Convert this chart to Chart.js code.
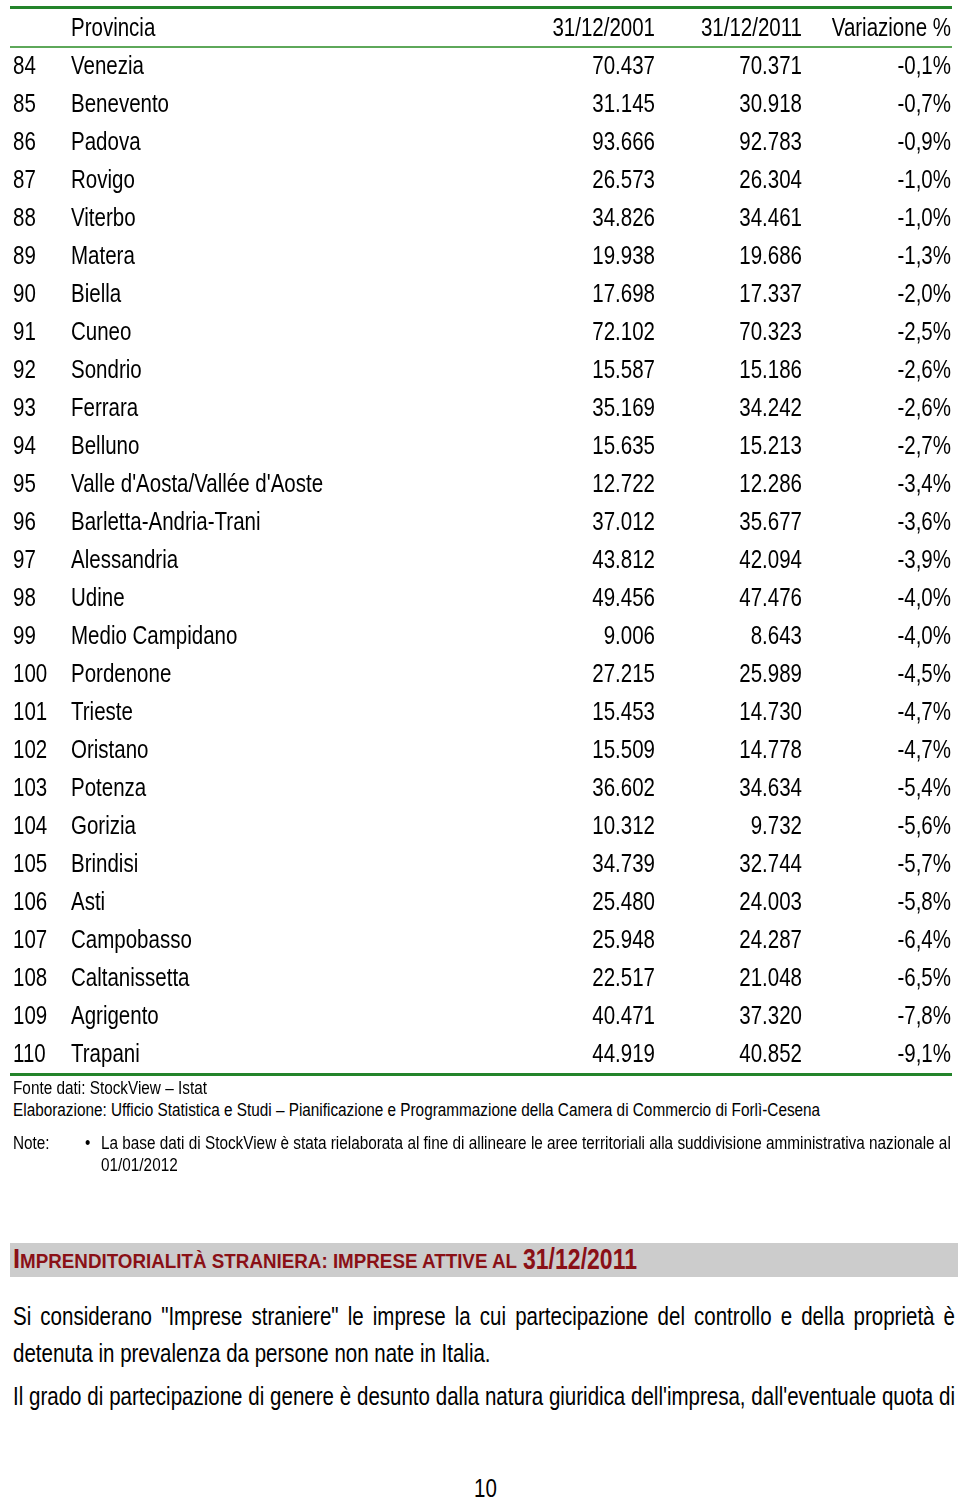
<!DOCTYPE html>
<html><head><meta charset="utf-8">
<script src="https://cdn.jsdelivr.net/npm/chart.js@4/dist/chart.umd.min.js"></script>
<style>
html,body{margin:0;padding:0;background:#fff;}
body{width:960px;height:1499px;position:relative;overflow:hidden;font-family:"Liberation Sans","Arial",sans-serif;color:#000;}
#wrap{position:absolute;left:0;top:0;width:960px;height:1082px;}
.abs{position:absolute;white-space:nowrap;display:inline-block;transform:scaleX(0.82);transform-origin:0 0;}
.small{font-size:18.7px;}
.band{position:absolute;left:10px;top:1243px;width:948px;height:34px;background:#cccccc;}
.ht{position:absolute;white-space:nowrap;display:inline-block;transform-origin:0 0;color:#8a1016;font-weight:bold;line-height:34px;top:1242px;}
.para{font-size:25px;}
</style></head>
<body>
<div id="wrap"><canvas id="c" width="960" height="1082"></canvas></div>

<div class="abs small" style="left:13px;top:1077px;">Fonte dati: StockView – Istat</div>
<div class="abs small" style="left:13px;top:1099px;">Elaborazione: Ufficio Statistica e Studi – Pianificazione e Programmazione della Camera di Commercio di Forlì-Cesena</div>
<div class="abs small" style="left:13px;top:1132px;">Note:</div>
<div class="abs small" style="left:85px;top:1132px;">•</div>
<div class="abs small" style="left:101px;top:1132px;">La base dati di StockView è stata rielaborata al fine di allineare le aree territoriali alla suddivisione amministrativa nazionale al</div>
<div class="abs small" style="left:101px;top:1154px;">01/01/2012</div>

<div class="band"></div>
<div class="ht" data-fit="504" style="left:13px;font-size:27px;">I<span style="font-size:20px;">MPRENDITORIALITÀ STRANIERA: IMPRESE ATTIVE AL</span></div>
<div class="ht" data-fit="114" style="left:523px;font-size:29px;">31/12/2011</div>

<div class="abs para" data-target="942" style="left:13px;top:1302px;">Si considerano "Imprese straniere" le imprese la cui partecipazione del controllo e della proprietà è</div>
<div class="abs para" style="left:13px;top:1339px;">detenuta in prevalenza da persone non nate in Italia.</div>
<div class="abs para" data-target="942" style="left:13px;top:1382px;">Il grado di partecipazione di genere è desunto dalla natura giuridica dell'impresa, dall'eventuale quota di</div>

<div class="abs para" style="left:474px;top:1474px;">10</div>

<script>
const headers = ["", "Provincia", "31/12/2001", "31/12/2011", "Variazione %"];
const ranks = [84,85,86,87,88,89,90,91,92,93,94,95,96,97,98,99,100,101,102,103,104,105,106,107,108,109,110];
const provinces = ["Venezia","Benevento","Padova","Rovigo","Viterbo","Matera","Biella","Cuneo","Sondrio","Ferrara","Belluno","Valle d'Aosta/Vallée d'Aoste","Barletta-Andria-Trani","Alessandria","Udine","Medio Campidano","Pordenone","Trieste","Oristano","Potenza","Gorizia","Brindisi","Asti","Campobasso","Caltanissetta","Agrigento","Trapani"];
const values2001 = ["70.437","31.145","93.666","26.573","34.826","19.938","17.698","72.102","15.587","35.169","15.635","12.722","37.012","43.812","49.456","9.006","27.215","15.453","15.509","36.602","10.312","34.739","25.480","25.948","22.517","40.471","44.919"];
const values2011 = ["70.371","30.918","92.783","26.304","34.461","19.686","17.337","70.323","15.186","34.242","15.213","12.286","35.677","42.094","47.476","8.643","25.989","14.730","14.778","34.634","9.732","32.744","24.003","24.287","21.048","37.320","40.852"];
const variations = ["-0,1%","-0,7%","-0,9%","-1,0%","-1,0%","-1,3%","-2,0%","-2,5%","-2,6%","-2,6%","-2,7%","-3,4%","-3,6%","-3,9%","-4,0%","-4,0%","-4,5%","-4,7%","-4,7%","-5,4%","-5,6%","-5,7%","-5,8%","-6,4%","-6,5%","-7,8%","-9,1%"];

const SX = 0.82;
// justify selected lines via word spacing
document.querySelectorAll('[data-target]').forEach(el => {
  const target = parseFloat(el.dataset.target) / SX;
  const w = el.getBoundingClientRect().width / SX;
  const n = (el.textContent.match(/ /g) || []).length;
  if (n) el.style.wordSpacing = ((target - w) / n) + 'px';
});
// fit heading parts to their widths
document.querySelectorAll('[data-fit]').forEach(el => {
  const w = el.getBoundingClientRect().width;
  el.style.transform = 'scaleX(' + (parseFloat(el.dataset.fit) / w) + ')';
});

const rowLabels = ["header"].concat(ranks.map(String));
const FONT = '25px "Liberation Sans", Arial, sans-serif';
const colX = [13, 71, 655, 802, 951];
const colAlign = ["left","left","right","right","right"];

const tablePlugin = {
  id: 'tablePlugin',
  afterDraw(chart) {
    const ctx = chart.ctx;
    const y = chart.scales.y;
    const area = chart.chartArea;
    const step = y.getPixelForValue(1) - y.getPixelForValue(0);
    ctx.save();
    ctx.strokeStyle = '#23842a';
    ctx.lineWidth = 3;
    ctx.beginPath(); ctx.moveTo(10, area.top - 1.5); ctx.lineTo(952, area.top - 1.5); ctx.stroke();
    ctx.beginPath(); ctx.moveTo(10, area.bottom + 1.5); ctx.lineTo(952, area.bottom + 1.5); ctx.stroke();
    ctx.strokeStyle = '#5ea85a';
    ctx.lineWidth = 2;
    const yl = y.getPixelForValue(0) + step / 2;
    ctx.beginPath(); ctx.moveTo(10, yl); ctx.lineTo(952, yl); ctx.stroke();
    ctx.font = FONT;
    ctx.fillStyle = '#000';
    ctx.textBaseline = 'middle';
    const drawRow = (cells, idx) => {
      const py = y.getPixelForValue(idx) + 1;
      cells.forEach((t, c) => {
        ctx.save();
        ctx.translate(colX[c], py);
        ctx.scale(SX, 1);
        ctx.textAlign = colAlign[c];
        ctx.fillText(t, 0, 0);
        ctx.restore();
      });
    };
    drawRow(headers, 0);
    ranks.forEach((r, i) => {
      drawRow([String(r), provinces[i], values2001[i], values2011[i], variations[i]], i + 1);
    });
    ctx.restore();
  }
};

new Chart(document.getElementById('c'), {
  type: 'bar',
  data: {
    labels: rowLabels,
    datasets: [{
      label: '31/12/2011',
      data: [null].concat(values2011.map(v => parseFloat(v.replace('.', '')))),
      backgroundColor: 'rgba(0,0,0,0)'
    }]
  },
  options: {
    indexAxis: 'y',
    responsive: false,
    animation: false,
    layout: { padding: { top: 9, bottom: 9, left: 0, right: 0 } },
    plugins: { legend: { display: false }, tooltip: { enabled: false } },
    scales: {
      y: { type: 'category', offset: true, display: false },
      x: { type: 'linear', min: 0, max: 100000, display: false }
    }
  },
  plugins: [tablePlugin]
});
</script>
</body></html>
